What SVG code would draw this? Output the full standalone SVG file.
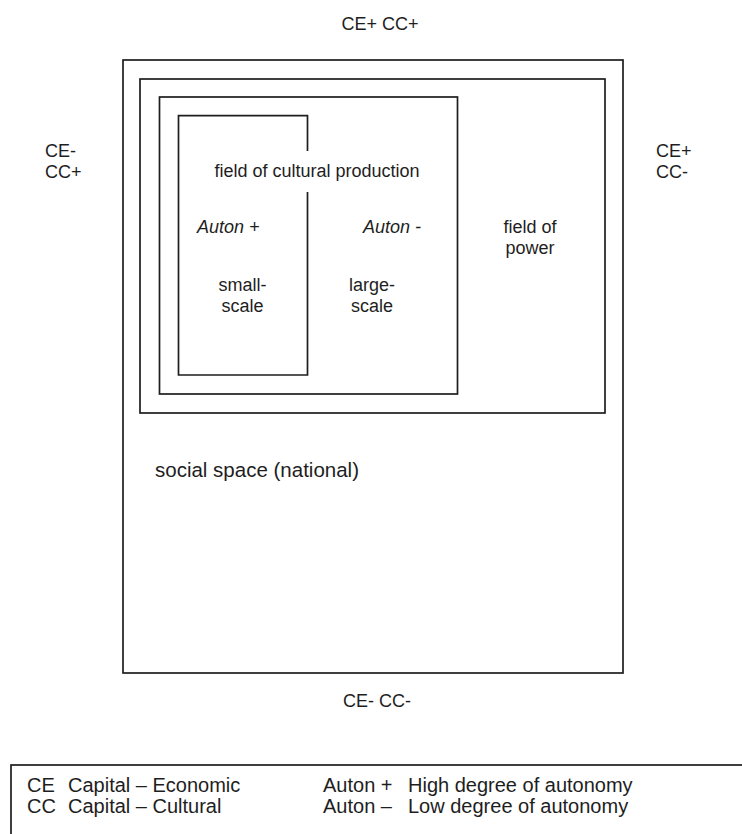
<svg xmlns="http://www.w3.org/2000/svg" width="742" height="834" viewBox="0 0 742 834">
<style>
  .box { fill: none; stroke: #1e1e1e; stroke-width: 1.7; }
  .t { font-family: "Liberation Sans", Arial, sans-serif; font-size: 18px; fill: #1e1e1e; }
  .lg { font-size: 20px; }
  .i { font-style: italic; }
  .m { text-anchor: middle; }
</style>
<rect width="742" height="834" fill="#ffffff"/>
<g id="social-space">
  <rect class="box" x="123" y="60" width="500" height="613"/>
  <text class="t" x="155" y="477" style="font-size:20.5px">social space (national)</text>
</g>
<g id="field-of-power">
  <rect class="box" x="140" y="79" width="465" height="334"/>
  <text class="t m" x="530" y="233">field of</text>
  <text class="t m" x="530" y="254">power</text>
</g>
<g id="field-of-cultural-production">
  <rect class="box" x="159.5" y="97" width="298" height="297"/>
  <text class="t m" x="317" y="177">field of cultural production</text>
  <text class="t i" x="363" y="233">Auton -</text>
  <text class="t m" x="372" y="291">large-</text>
  <text class="t m" x="372" y="312">scale</text>
</g>
<g id="small-scale">
  <path class="box" d="M307.5,151 V115.7 H178.5 V375 H307.5 V192"/>
  <text class="t i" x="197" y="233">Auton +</text>
  <text class="t m" x="242.5" y="291">small-</text>
  <text class="t m" x="242.5" y="312">scale</text>
</g>
<g id="axis-labels">
  <text class="t m" x="380" y="30">CE+ CC+</text>
  <text class="t m" x="377" y="707">CE- CC-</text>
  <text class="t" x="45" y="157">CE-</text>
  <text class="t" x="45" y="178">CC+</text>
  <text class="t" x="656" y="157">CE+</text>
  <text class="t" x="656" y="178">CC-</text>
</g>
<g id="connectors"></g>
<g id="legend">
  <rect class="box" x="11" y="765" width="800" height="120"/>
  <text class="t lg" x="27" y="792">CE</text>
  <text class="t lg" x="68" y="792">Capital – Economic</text>
  <text class="t lg" x="27" y="813">CC</text>
  <text class="t lg" x="68" y="813">Capital – Cultural</text>
  <text class="t lg" x="323" y="792">Auton +</text>
  <text class="t lg" x="408" y="792">High degree of autonomy</text>
  <text class="t lg" x="323" y="813">Auton –</text>
  <text class="t lg" x="408" y="813">Low degree of autonomy</text>
</g>
</svg>
